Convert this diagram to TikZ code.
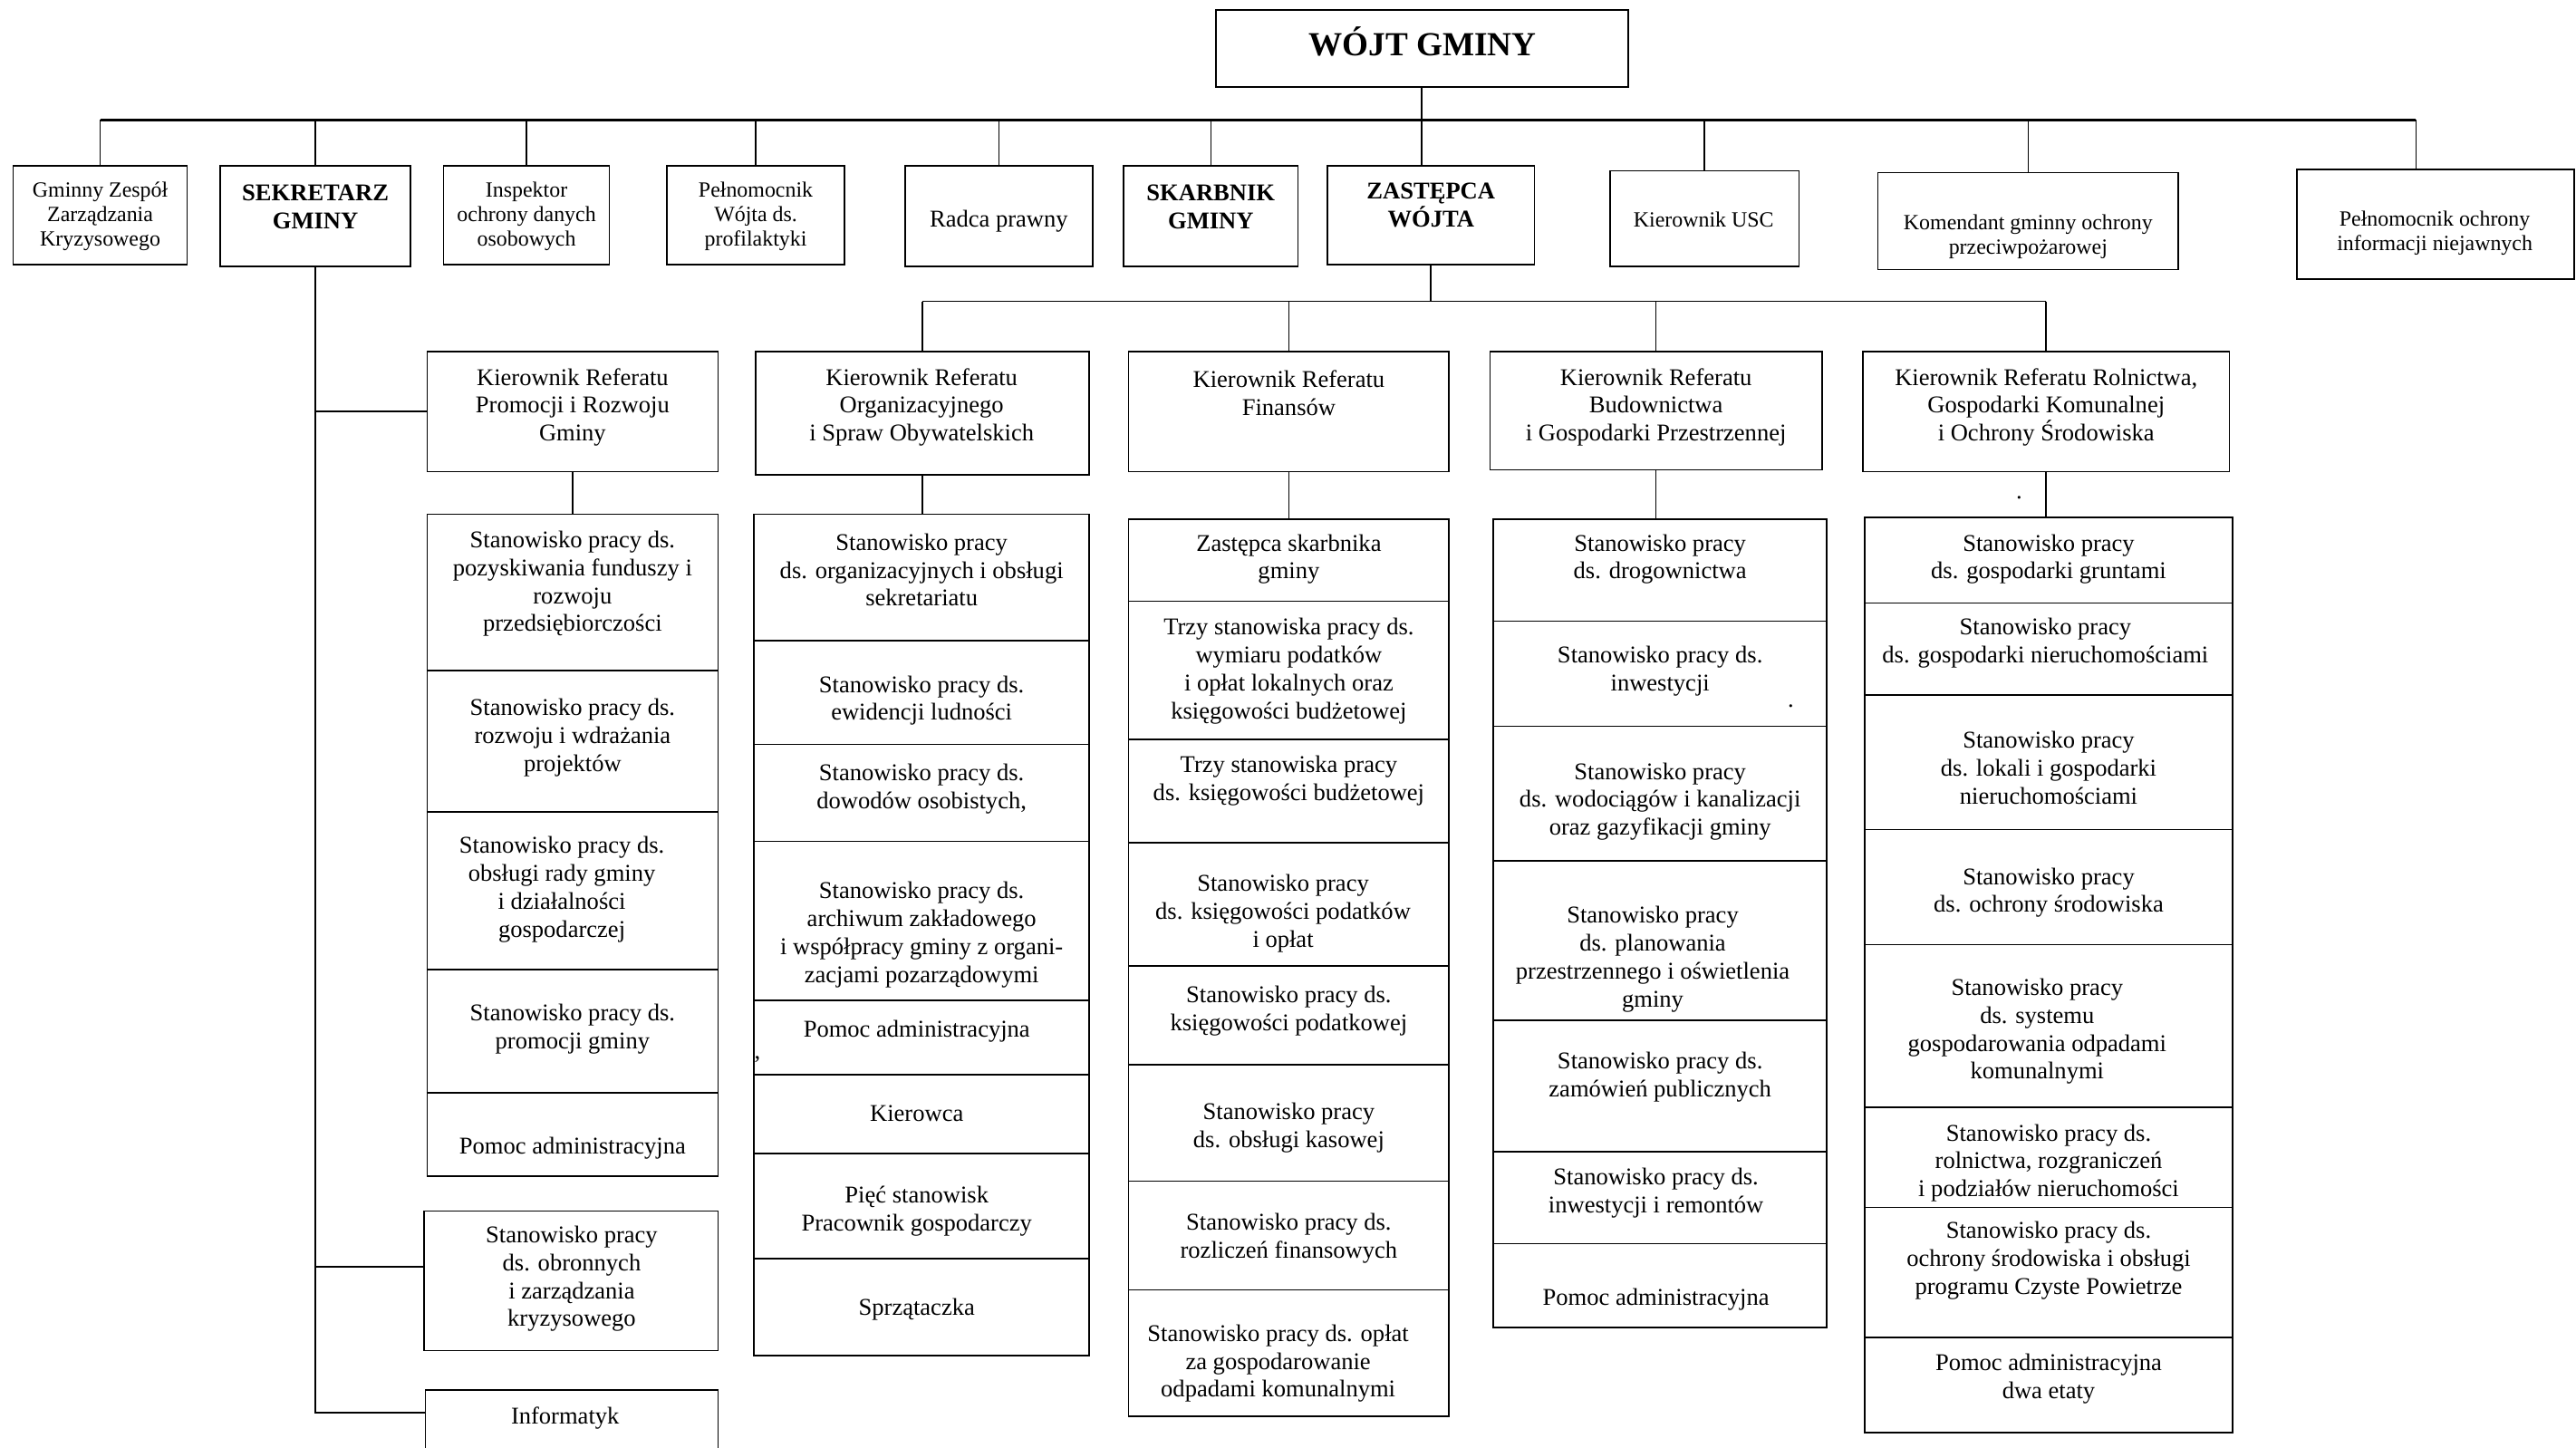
\documentclass[tikz,border=0pt]{standalone}
\usepackage{fontspec}
\setmainfont{Liberation Serif}
\usetikzlibrary{fit,calc}

\begin{document}
\begin{tikzpicture}[x=0.24mm, y=-0.24mm, line width=0.6pt,
  box/.style={draw, inner sep=0pt},
  txt/.style={align=center, yshift=-0.45mm, font=\fontsize{10}{11.6}\selectfont},
  small/.style={align=center, yshift=-0.45mm, font=\fontsize{9}{10.2}\selectfont},
  head/.style={align=center, yshift=-0.3mm, font=\fontsize{10}{11.6}\selectfont\bfseries},
  bus/.style={line width=1.4pt}]
\useasboundingbox (0,0) rectangle (1568,881);
\clip (0,0) rectangle (1568,881);

% Wojt
\node[box, fit={(740,6) (991,53)}] (wojt) {};
\node[font=\fontsize{14}{16}\selectfont\bfseries] (wojtt) at (866,25) {WÓJT GMINY};

% Top row
\node[box, fit={(8,101) (114,161)}] (gzzk) {};
\node[box, fit={(134,101) (250,162)}] (sekr) {};
\node[box, fit={(270,101) (371,161)}] (insp) {};
\node[box, fit={(406,101) (514,161)}] (pelw) {};
\node[box, fit={(551,101) (665,162)}] (radca) {};
\node[box, fit={(684,101) (790,162)}] (skarb) {};
\node[box, fit={(808,101) (934,161)}] (zast) {};
\node[box, fit={(980,104) (1095,162)}] (usc) {};
\node[box, fit={(1143,105) (1326,164)}] (kom) {};
\node[box, fit={(1398,103) (1567,170)}] (pelo) {};

\node[small] (gzzkt) at (61,130) {Gminny Zespół\\Zarządzania\\Kryzysowego};
\node[head] (sekrt) at (192,124.5) {SEKRETARZ\\GMINY};
\node[small] (inspt) at (320.5,130) {Inspektor\\ochrony danych\\osobowych};
\node[small] (pelwt) at (460,130) {Pełnomocnik\\Wójta ds.\\profilaktyki};
\node[txt] (radcat) at (608,133) {Radca prawny};
\node[head] (skarbt) at (737,124.5) {SKARBNIK\\GMINY};
\node[head] (zastt) at (871,123.5) {ZASTĘPCA\\WÓJTA};
\node[small] (usct) at (1037,132) {Kierownik USC};
\node[small] (komt) at (1234.5,142) {Komendant gminny ochrony\\przeciwpożarowej};
\node[small] (pelot) at (1482,140) {Pełnomocnik ochrony\\informacji niejawnych};

% Bus under Wojt
\coordinate (busl) at (gzzk.north |- 0,73);
\coordinate (pelon) at ($(pelo.north west)!0.43!(pelo.north east)$);
\draw[bus] (busl) -- (busl -| pelon);
\foreach \n in {gzzk,sekr,insp,pelw,radca,skarb,usc,kom}
  \draw (\n.north) -- (\n.north |- busl);
\draw (pelon) -- (pelon |- busl);
\draw (wojt.south) -- (wojt.south |- zast.north);

% Kierownicy referatow
\node[box, fit={(260,214) (437,287)}] (krp) {};
\node[box, fit={(460,214) (663,289)}] (korg) {};
\node[box, fit={(687,214) (882,287)}] (kfin) {};
\node[box, fit={(907,214) (1109,286)}] (kbud) {};
\node[box, fit={(1134,214) (1357,287)}] (krol) {};

\node[txt] (krpt) at (348.5,246) {Kierownik Referatu\\Promocji i Rozwoju\\Gminy};
\node[txt] (korgt) at (561,246) {Kierownik Referatu\\Organizacyjnego\\i Spraw Obywatelskich};
\node[txt] (kfint) at (784.5,237.5) {Kierownik Referatu\\Finansów};
\node[txt] (kbudt) at (1008,246) {Kierownik Referatu\\Budownictwa\\i Gospodarki Przestrzennej};
\node[txt] (krolt) at (1245.5,246) {Kierownik Referatu Rolnictwa,\\Gospodarki Komunalnej\\i Ochrony Środowiska};

% Bus under Zastepca
\draw (zast.south) -- ++(0,22) coordinate (zbus);
\draw (korg.north |- zbus) -- (krol.north |- zbus);
\foreach \n in {korg,kfin,kbud,krol}
  \draw (\n.north |- zbus) -- (\n.north);

% Stanowiska
\node[box, fit={(260,313) (437,716)}] (st1) {};
\node[box, fit={(459,313) (663,825)}] (st2) {};
\node[box, fit={(687,316) (882,862)}] (st3) {};
\node[box, fit={(909,316) (1112,808)}] (st4) {};
\node[box, fit={(1135,315) (1359,872)}] (st5) {};
\node[box, fit={(258,737) (437,822)}] (obr) {};
\node[box, fit={(259,846) (437,890)}] (inf) {};

\foreach \n/\s in {krp/st1,korg/st2,kfin/st3,kbud/st4,krol/st5}
  \draw (\n.south) -- (\n.south |- \s.north);

\foreach \y in {408,494,590,665}
  \draw (st1.west |- 0,\y) -- (st1.east |- 0,\y);
\foreach \y in {390,453,512,609,654,702,766}
  \draw (st2.west |- 0,\y) -- (st2.east |- 0,\y);
\foreach \y in {366,450,513,588,648,719,785}
  \draw (st3.west |- 0,\y) -- (st3.east |- 0,\y);
\foreach \y in {378,442,524,621,701,757}
  \draw (st4.west |- 0,\y) -- (st4.east |- 0,\y);
\foreach \y in {367,423,505,575,674,735,814}
  \draw (st5.west |- 0,\y) -- (st5.east |- 0,\y);

% Sekretarz branch
\coordinate (obrl) at ($(obr.north west)!0.4!(obr.south west)$);
\coordinate (infl) at ($(inf.north west)!0.32!(inf.south west)$);
\draw (sekr.south) -- (sekr.south |- infl) -- (infl);
\draw (sekr.south |- obrl) -- (obrl);
\draw (sekr.south |- krp.west) -- (krp.west);

% Referat Promocji
\node[txt] (s1a) at (348.5,353.5) {Stanowisko pracy ds.\\pozyskiwania funduszy i\\rozwoju\\przedsiębiorczości};
\node[txt] (s1b) at (348.5,447) {Stanowisko pracy ds.\\rozwoju i wdrażania\\projektów};
\node[txt] (s1c) at (342,539.5) {Stanowisko pracy ds.\\obsługi rady gminy\\i działalności\\gospodarczej};
\node[txt] (s1d) at (348.5,624.5) {Stanowisko pracy ds.\\promocji gminy};
\node[txt] (s1e) at (348.5,697) {Pomoc administracyjna};
\node[txt] (obrt) at (348,776.5) {Stanowisko pracy\\ds. obronnych\\i zarządzania\\kryzysowego};
\node[txt] (inft) at (344,861) {Informatyk};

% Referat Organizacyjny
\node[txt] (s2a) at (561,345) {Stanowisko pracy\\ds. organizacyjnych i obsługi\\sekretariatu};
\node[txt] (s2b) at (561,424.5) {Stanowisko pracy ds.\\ewidencji ludności};
\node[txt] (s2c) at (561,478.5) {Stanowisko pracy ds.\\dowodów osobistych,};
\node[txt] (s2d) at (561,567) {Stanowisko pracy ds.\\archiwum zakładowego\\i współpracy gminy z organi-\\zacjami pozarządowymi};
\node[txt] (s2e) at (558,626) {Pomoc administracyjna};
\node[txt] (s2f) at (558,676) {Kierowca};
\node[txt] (s2g) at (558,735.5) {Pięć stanowisk\\Pracownik gospodarczy};
\node[txt] (s2h) at (558,795) {Sprzątaczka};

% Referat Finansow
\node[txt] (s3a) at (784.5,338.5) {Zastępca skarbnika\\gminy};
\node[txt] (s3b) at (784.5,406.5) {Trzy stanowiska pracy ds.\\wymiaru podatków\\i opłat lokalnych oraz\\księgowości budżetowej};
\node[txt] (s3c) at (784.5,473.5) {Trzy stanowiska pracy\\ds. księgowości budżetowej};
\node[txt] (s3d) at (781,554) {Stanowisko pracy\\ds. księgowości podatków\\i opłat};
\node[txt] (s3e) at (784.5,613.5) {Stanowisko pracy ds.\\księgowości podatkowej};
\node[txt] (s3f) at (784.5,684.5) {Stanowisko pracy\\ds. obsługi kasowej};
\node[txt] (s3g) at (784.5,752) {Stanowisko pracy ds.\\rozliczeń finansowych};
\node[txt] (s3h) at (778,828) {Stanowisko pracy ds. opłat\\za gospodarowanie\\odpadami komunalnymi};

% Referat Budownictwa
\node[txt] (s4a) at (1010.5,338.5) {Stanowisko pracy\\ds. drogownictwa};
\node[txt] (s4b) at (1010.5,406.5) {Stanowisko pracy ds.\\inwestycji};
\node[txt] (s4c) at (1010.5,486) {Stanowisko pracy\\ds. wodociągów i kanalizacji\\oraz gazyfikacji gminy};
\node[txt] (s4d) at (1006,582) {Stanowisko pracy\\ds. planowania\\przestrzennego i oświetlenia\\gminy};
\node[txt] (s4e) at (1010.5,653.5) {Stanowisko pracy ds.\\zamówień publicznych};
\node[txt] (s4f) at (1008,724.5) {Stanowisko pracy ds.\\inwestycji i remontów};
\node[txt] (s4g) at (1008,789) {Pomoc administracyjna};

% Referat Rolnictwa
\node[txt] (s5a) at (1247,338.5) {Stanowisko pracy\\ds. gospodarki gruntami};
\node[txt] (s5b) at (1245,389.5) {Stanowisko pracy\\ds. gospodarki nieruchomościami};
\node[txt] (s5c) at (1247,465.5) {Stanowisko pracy\\ds. lokali i gospodarki\\nieruchomościami};
\node[txt] (s5d) at (1247,541.5) {Stanowisko pracy\\ds. ochrony środowiska};
\node[txt] (s5e) at (1240,626) {Stanowisko pracy\\ds. systemu\\gospodarowania odpadami\\komunalnymi};
\node[txt] (s5f) at (1247,706) {Stanowisko pracy ds.\\rolnictwa, rozgraniczeń\\i podziałów nieruchomości};
\node[txt] (s5g) at (1247,765.5) {Stanowisko pracy ds.\\ochrony środowiska i obsługi\\programu Czyste Powietrze};
\node[txt] (s5h) at (1247,837.5) {Pomoc administracyjna\\dwa etaty};

% stray marks
\node[txt, inner sep=0pt] (dot1) at (1229,301) {.};
\node[txt, inner sep=0pt] (dot2) at (1090,428) {.};
\node[txt, inner sep=0pt] (comma1) at (461,643) {,};
\end{tikzpicture}
\end{document}
